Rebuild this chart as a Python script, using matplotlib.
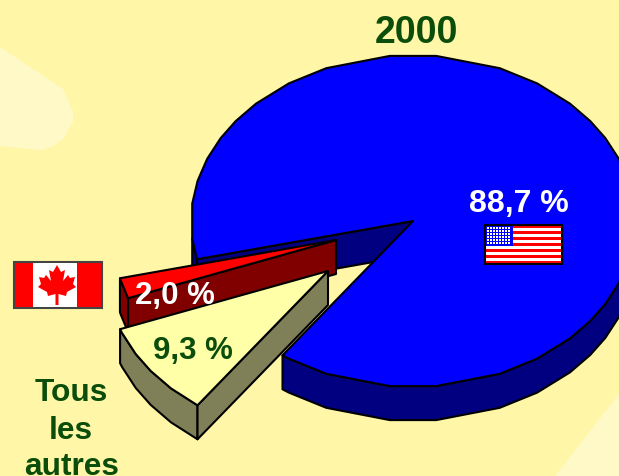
import numpy as np
import matplotlib
matplotlib.use('Agg')
import matplotlib.pyplot as plt
from matplotlib.patches import Polygon, Rectangle

plt.rcParams['font.family'] = ['Liberation Sans', 'DejaVu Sans']

title = '2000'
names = ['Etats-Unis', 'Canada', 'Tous les autres']
shares = [88.7, 2.0, 9.3]
share_labels = ['88,7 %', '2,0 %', '9,3 %']
other_label = ['Tous', 'les', 'autres']

bg = '#fff6a8'
pale = '#fff9c8'
green = '#0b4d0b'
top_cols = ['#0000ff', '#ff0000', '#ffffa8']
wall_cols = ['#000080', '#800000', '#808058']

# pie geometry in pixels
rx, ry = 222, 166
depth = 34
start = 234.0
centres = [(413, 222), (336, 241), (328, 272)]

# the ellipse in the original is a coarse polygon, these are its corners
quarter = np.array([6, 14, 22, 30, 37, 45, 56, 67, 84])
corners = np.r_[quarter, 180 - quarter, 180 + quarter, 360 - quarter]
corners = np.sort(np.r_[corners, corners + 360])

ang = np.array(shares) / sum(shares) * 360


def arc(c, t1, t2, dz=0):
    inner = corners[(corners > t1) & (corners < t2)]
    t = np.radians(np.r_[t1, inner, t2])
    return np.column_stack([c[0] + rx * np.cos(t), c[1] - ry * np.sin(t) + dz])


def poly(ax, pts, col, lw=1.5):
    ax.add_patch(Polygon(pts, closed=True, fc=col, ec='black', lw=lw, joinstyle='round'))


def top(ax, c, t1, t2, col):
    poly(ax, np.vstack([[c], arc(c, t1, t2)]), col)


def side(ax, c, t1, t2, col):
    poly(ax, np.vstack([arc(c, t1, t2), arc(c, t1, t2, depth)[::-1]]), col)


def radial(ax, c, t, col):
    p = arc(c, t, t)[0]
    poly(ax, [c, p, (p[0], p[1] + depth), (c[0], c[1] + depth)], col)


fig = plt.figure(figsize=(6.19, 4.77), dpi=100, facecolor=bg)
ax = fig.add_axes([0, 0, 1, 1])
ax.set_xlim(0, 619)
ax.set_ylim(477, 0)
ax.axis('off')

# pale background shapes
ax.add_patch(Polygon([(0, 48), (63, 90), (73, 113), (73, 123), (63, 140), (52, 148),
                      (40, 151), (0, 147)], fc=pale, ec='none'))
ax.add_patch(Polygon([(555, 477), (619, 395), (619, 477)], fc=pale, ec='none'))

# angles of the slices, going clockwise from the start for the small ones
yel1, yel2 = start - ang[2], start
red1, red2 = yel1 - ang[1], yel1
blue1, blue2 = start, start + ang[0]

# blue slice
radial(ax, centres[0], blue2, wall_cols[0])
side(ax, centres[0], 186, red1, wall_cols[0])
side(ax, centres[0], blue1, 360, wall_cols[0])
top(ax, centres[0], blue1, blue2, top_cols[0])

# red slice
side(ax, centres[1], red1, red2, wall_cols[1])
radial(ax, centres[1], red2, wall_cols[1])
top(ax, centres[1], red1, red2, top_cols[1])

# other slice
side(ax, centres[2], yel1, yel2, wall_cols[2])
radial(ax, centres[2], yel2, wall_cols[2])
top(ax, centres[2], yel1, yel2, top_cols[2])

# texts
ax.text(416, 43, title, color=green, fontsize=27, fontweight='bold', ha='center', va='baseline')
ax.text(519, 212, share_labels[0], color='white', fontsize=23, fontweight='bold', ha='center', va='baseline')
ax.text(175, 304, share_labels[1], color='white', fontsize=22.5, fontweight='bold', ha='center', va='baseline')
ax.text(192.5, 359, share_labels[2], color=green, fontsize=22.5, fontweight='bold', ha='center', va='baseline')
for s, x, y in zip(other_label, [71.5, 70.5, 72], [401, 439, 475.5]):
    ax.text(x, y, s, color=green, fontsize=22.8, fontweight='bold', ha='center', va='baseline')

# US flag
ax.add_patch(Rectangle((485, 226), 77, 39, fc='white', ec='none'))
for i in range(0, 13, 2):
    ax.add_patch(Rectangle((485, 226 + i * 3), 77, 3, fc='#ff0000', ec='none'))
ax.add_patch(Rectangle((485, 226), 28, 21, fc='#0000ff', ec='none'))
sx, sy = np.meshgrid(np.arange(487.5, 511, 3), np.arange(228.5, 246, 3))
ax.scatter(sx.ravel(), sy.ravel(), s=3.2, marker='s', c='white', linewidths=0)
ax.add_patch(Rectangle((485, 225.5), 77, 39, fc='none', ec='black', lw=1.5))

# Canadian flag
ax.add_patch(Rectangle((14, 263), 88, 46, fc='#ff0000', ec='#444444', lw=1.5))
ax.add_patch(Rectangle((33, 264), 44, 44, fc='white', ec='none'))
leaf_x = np.array([0, 4, 8, 6, 11, 13, 18, 16, 19, 10, 9, 1.5, 1.5])
leaf_y = np.array([-20, -13, -15, -4, -10, -7, -8, -1, 2, 7, 11, 9, 20])
lx = np.r_[leaf_x, -leaf_x[::-1]] + 57
ly = np.r_[leaf_y, leaf_y[::-1]] + 286
ax.add_patch(Polygon(np.column_stack([lx, ly]), fc='#ff0000', ec='none'))

fig.savefig('out.png', dpi=100, facecolor=bg)
